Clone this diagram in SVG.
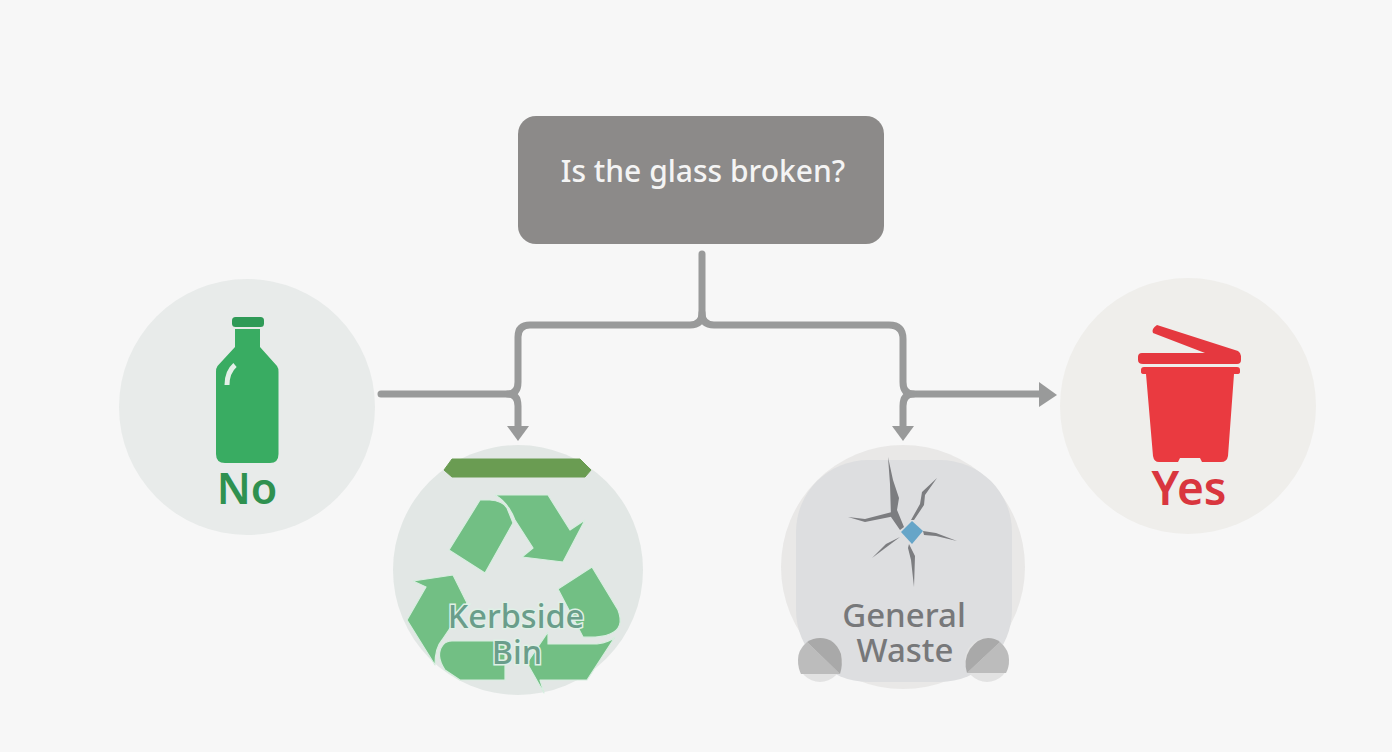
<svg xmlns="http://www.w3.org/2000/svg" width="1392" height="752" viewBox="0 0 1392 752">
<style>
text{font-family:"Noto Sans","Liberation Sans",sans-serif;text-anchor:middle}
.conn{fill:none;stroke:#999a9a;stroke-width:7;stroke-linecap:round;stroke-linejoin:round}
.head{fill:#999a9a}
.rec{fill:#72bf84;stroke:#d8eee0;stroke-width:1.2;stroke-linejoin:round}
.kb{font-size:32.500px;font-weight:500;fill:#6a9e8b;stroke:#dff0e6;stroke-width:3;paint-order:stroke}
.gw{font-size:33px;font-weight:500;fill:#77787a}
.crack{fill:#7c7d80}
.bump{fill:#e2e2e2}
.bumpm{fill:#bcbcbc}
.bumpd{fill:#a9a9a9}
</style>
<rect width="1392" height="752" fill="#f7f7f7"/>
<g id="connectors">
<path class="conn" d="M702 254V313Q702 325 690 325H530Q518 325 518 337V382Q518 394 508 394H381"/>
<path class="conn" d="M702 313Q702 325 714 325H889Q903 325 903 339V382Q903 394 913 394H1040"/>
<path class="conn" d="M508 394Q518 394 518 406V428"/>
<path class="conn" d="M913 394Q903 394 903 406V428"/>
<polygon class="head" points="507,426 529,426 518,441"/>
<polygon class="head" points="892,426 914,426 903,441"/>
<polygon class="head" points="1039,382 1057,395 1039,407"/>
</g>
<g id="question">
<rect x="518" y="116" width="366" height="128" rx="18" fill="#8c8a89"/>
<text x="703" y="182" font-size="30" font-weight="500" fill="#f4f4f4">Is the glass broken?</text>
</g>
<g id="no">
<circle cx="247" cy="407" r="128" fill="#e8ebea"/>
<rect x="232" y="317" width="32" height="10" rx="3.500" fill="#2f9a57"/>
<path d="M235 329H260V347L277 366Q278.500 368 278.500 372V454Q278.500 463 270 463H225Q216 463 216 454V372Q216 368 217.500 366L235 347Z" fill="#39ac62"/>
<path d="M235 365Q227 372 227 385" fill="none" stroke="#e4f0e8" stroke-width="5" stroke-linecap="butt"/>
<text x="247" y="504" font-size="43" font-weight="600" fill="#2f9150">No</text>
</g>
<g id="yes">
<circle cx="1188" cy="406" r="128" fill="#efeeeb"/>
<path d="M1157 325L1238 351Q1241 353 1241 356V360Q1241 364 1237 364H1143Q1138 364 1138 360V357Q1138 353 1142 353H1205L1153 333Q1151 329 1157 325Z" fill="#e5383f"/>
<path d="M1144 367H1237Q1240 367 1240 370V372Q1240 374 1237 374H1234L1228 456Q1227 462 1221 462H1202L1200 458H1180L1178 462H1159Q1154 462 1153 456L1146 374H1144Q1141 374 1141 372V370Q1141 367 1144 367Z" fill="#ea3a40"/>
<text x="1189" y="505" font-size="46" font-weight="600" fill="#d9363e">Yes</text>
</g>
<g id="kerbside">
<circle cx="518" cy="570" r="125" fill="#e2e7e5"/>
<polygon points="452,459 580,459 591,470 585,477 452,477 444,470" fill="#6a9c52" stroke="#6a9c52" stroke-width="1" stroke-linejoin="round"/>
<path class="rec" d="M480 500H490Q503 501 507 508L513 523L485 573L449 550Z"/>
<path class="rec" d="M495 495H548L570 530L585 520L563 562L522 557L533 548L515 520Q508 502 495 495Z"/>
<path class="rec" d="M592 567L618 610Q625 628 610 634Q600 638 583 637L558 589Z"/>
<path class="rec" d="M615 637L587 680H540L544 693L527 663L548 632V644H597Q610 642 615 637Z"/>
<path class="rec" d="M505 641V680H460L445 670Q435 655 443 645Q446 641 452 641Z"/>
<path class="rec" d="M413 581L453 575L467 603L442 640Q435 648 435 665L407 620L426 587Z"/>
<text class="kb" x="516" y="628">Kerbside</text>
<text class="kb" x="517" y="664">Bin</text>
</g>
<g id="general">
<circle cx="903" cy="567" r="122" fill="#e9e8e7"/>
<rect x="796" y="460" width="216" height="222" rx="72" fill="#dddee0"/>
<path class="crack" d="M888 457L893 480L899 498L897 510L904 527L900 530L891 517L890 484Z"/>
<path class="crack" d="M848 517L865 519L892 512L895 516L865 522Z"/>
<path class="crack" d="M937 478L925 495L924 505L914 520L911 520L920 504L922 492Z"/>
<path class="crack" d="M923 531L936 533L957 541L936 536L924 535Z"/>
<path class="crack" d="M900 537L888 546L872 558L886 544Z"/>
<path class="crack" d="M909 544L915 556L914 587L911 560L908 548Z"/>
<polygon points="901,532 912,521 923,531 912,544" fill="#66a5c8"/>
<text class="gw" x="904" y="627">General</text>
<text class="gw" x="905" y="662">Waste</text>
<circle class="bump" cx="820" cy="660" r="22"/>
<path class="bumpm" d="M807 642L840 674H801Q798 668 798 660Q798 650 807 642Z"/>
<path class="bumpd" d="M807 642Q813 638 820 638Q835 638 841 654Q843 665 840 674Z"/>
<circle class="bump" cx="987" cy="660" r="22"/>
<path class="bumpm" d="M967 673L1000 642Q1009 650 1009 660Q1009 668 1006 673Z"/>
<path class="bumpd" d="M967 673Q963 660 970 649Q978 638 988 638Q995 638 1000 642Z"/>
</g>
</svg>
